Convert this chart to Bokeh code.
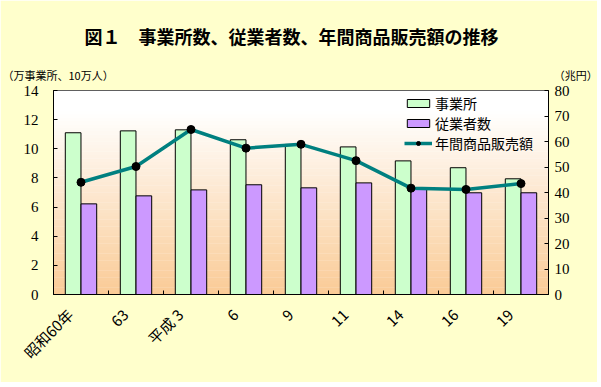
from bokeh.plotting import figure
from bokeh.models import (Range1d, LinearAxis, FixedTicker, Title, BoxAnnotation,
                          Legend, LegendItem, ColumnDataSource)
from bokeh.embed import file_html
from bokeh.resources import INLINE

# ---------------- data ----------------
categories = ["昭和60年", "63", "平成 3", "6", "9", "11", "14", "16", "19"]
establishments = [11.10, 11.23, 11.30, 10.62, 10.30, 10.13, 9.17, 8.70, 7.94]   # 万事業所
employees = [6.22, 6.77, 7.18, 7.53, 7.32, 7.66, 7.25, 6.98, 6.98]              # 10万人
sales = [44.0, 50.2, 64.7, 57.4, 58.9, 52.5, 41.7, 41.2, 43.5]                  # 兆円
left_ticks = [0, 2, 4, 6, 8, 10, 12, 14]
right_ticks = [0, 10, 20, 30, 40, 50, 60, 70, 80]

title_text = "図１　事業所数、従業者数、年間商品販売額の推移"
left_unit = "（万事業所、10万人）"
right_unit = "（兆円）"
legend_labels = ["事業所", "従業者数", "年間商品販売額"]

# ---------------- figure ----------------
W, H = 597, 382
FL, FT = 53, 90
FW, FH = 495, 204
n = len(categories)
p = figure(width=W, height=H, frame_width=FW, frame_height=FH, title=None,
           x_range=Range1d(0, n), y_range=Range1d(0, 14),
           output_backend="svg", toolbar_location=None,
           min_border_left=FL, min_border_right=W - FL - FW,
           min_border_top=FT, min_border_bottom=H - FT - FH)
p.extra_y_ranges = {"right": Range1d(0, 80)}
p.background_fill_color = "#FFFFFF"
p.border_fill_color = "#FFFFCC"
p.outline_line_color = "black"
p.outline_line_width = 1
p.xgrid.visible = False
p.ygrid.visible = False

# unit row (nearest to the frame) and main title above it
unit_t = Title(text=left_unit + "\u3000" * 41 + right_unit, align="left", offset=-51,
               text_font="Noto Sans CJK JP", text_font_size="11px",
               text_font_style="normal", text_color="black", standoff=16)
main_t = Title(text=title_text, align="left", offset=31,
               text_font="Noto Sans CJK JP", text_font_size="18px",
               text_font_style="bold", text_color="black", standoff=15)
p.above = [unit_t, main_t]

# gradient background of plot area
nb = 60
for i in range(nb):
    b = 14 * i / nb
    t = 14 * (i + 1) / nb + 0.02
    frac = (i + 0.5) / nb              # 0 bottom -> 1 top
    s = max(0.0, min(1.0, (0.9 - frac) / 0.9))  # peach strength
    r = int(round(255 + (250 - 255) * s))
    g = int(round(255 + (203 - 255) * s))
    bl = int(round(255 + (150 - 255) * s))
    p.add_layout(BoxAnnotation(bottom=b, top=t, left=0, right=n,
                               fill_color="#%02x%02x%02x" % (r, g, bl), fill_alpha=1,
                               line_color=None, level="underlay"))

xc = [i + 0.5 for i in range(n)]
src = ColumnDataSource(dict(x=xc, est=establishments, emp=employees, sales=sales))

bw = 0.285
r_est = p.vbar(x=[v - 0.143 for v in xc], top=establishments, width=bw,
               fill_color="#CCFFCC", line_color="black", line_width=1)
r_emp = p.vbar(x=[v + 0.143 for v in xc], top=employees, width=bw,
               fill_color="#CC99FF", line_color="black", line_width=1)
r_line = p.line(x="x", y="sales", source=src, y_range_name="right",
                line_color="#008080", line_width=3.5)
r_pts = p.scatter(x="x", y="sales", source=src, y_range_name="right",
                  marker="circle", size=8, fill_color="black", line_color="black")

# ---------------- axes ----------------
label_pos = [v - 0.2 for v in xc]
xa = p.xaxis[0]
xa.ticker = FixedTicker(ticks=label_pos, minor_ticks=[float(i) for i in range(1, n)])
xa.major_label_overrides = {v: c for v, c in zip(label_pos, categories)}
xa.major_tick_in = 0
xa.major_tick_out = 0
xa.minor_tick_in = 4
xa.minor_tick_out = 0
xa.minor_tick_line_color = "black"
xa.axis_line_color = "black"
xa.major_label_orientation = 0.785
xa.major_label_standoff = 17
xa.major_label_text_font = "Noto Sans CJK JP"
xa.major_label_text_font_size = "15px"
xa.major_label_text_color = "black"

ya = p.yaxis[0]
ya.ticker = FixedTicker(ticks=left_ticks)
ya.major_tick_in = 4
ya.major_tick_out = 0
ya.minor_tick_line_color = None
ya.major_label_standoff = 15
ya.major_label_text_font = "Liberation Serif"
ya.major_label_text_font_size = "15px"
ya.major_label_text_color = "black"
ya.axis_line_color = "black"

yr = LinearAxis(y_range_name="right", ticker=FixedTicker(ticks=right_ticks))
yr.major_tick_in = 4
yr.major_tick_out = 0
yr.minor_tick_line_color = None
yr.major_label_standoff = 6
yr.major_label_text_font = "Liberation Serif"
yr.major_label_text_font_size = "15px"
yr.major_label_text_color = "black"
yr.axis_line_color = "black"
p.add_layout(yr, "right")

# ---------------- legend ----------------
legend = Legend(items=[LegendItem(label=legend_labels[0], renderers=[r_est]),
                       LegendItem(label=legend_labels[1], renderers=[r_emp]),
                       LegendItem(label=legend_labels[2], renderers=[r_line, r_pts])],
                location=(351, 141), background_fill_alpha=0, border_line_color=None,
                label_text_font="Noto Sans CJK JP", label_text_font_size="14px",
                label_text_color="black", glyph_width=28, glyph_height=10,
                label_height=12, spacing=-4, padding=0, margin=0, label_standoff=3)
p.add_layout(legend)

open("out.html", "w").write(file_html(p, INLINE))
